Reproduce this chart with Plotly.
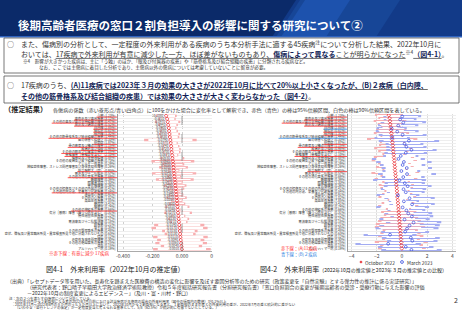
import plotly.graph_objects as go

W, H = 462, 320
FONT = "Noto Sans CJK JP"


def X(px):
    return px / W


def Y(py):
    return 1 - py / H


# ---------------- data ----------------
diseases = [
    "う蝕", "歯肉炎及び歯周疾患", "その他の歯及び歯の支持組織の障害", "屈折及び調節の障害",
    "白内障", "結膜炎", "緑内障", "その他の筋骨格系及び結合組織の疾患", "肩の傷害＜損傷＞",
    "関節症", "骨の密度及び構造の障害", "皮膚炎及び湿疹", "その他の眼及び付属器の疾患",
    "脊椎障害（脊椎症を含む）", "腰痛症及び坐骨神経痛", "その他の皮膚及び皮下組織の疾患",
    "アレルギー性鼻炎", "神経症性障害、ストレス関連障害及び身体表現性障害", "前立腺肥大（症）",
    "胃炎及び十二指腸炎", "その他の消化器系の疾患", "睡眠障害", "脂質異常症", "甲状腺障害",
    "その他の損傷及びその他の外因の影響", "その他の内分泌、栄養及び代謝疾患", "虚血性心疾患",
    "その他の心疾患", "高血圧性疾患", "糖尿病", "脳梗塞", "その他の神経系の疾患",
    "気分［感情］障害（躁うつ病を含む）", "慢性閉塞性肺疾患", "喘息", "胃潰瘍及び十二指腸潰瘍",
    "肝疾患", "腎不全", "その他の腎尿路系の疾患",
    "症状、徴候及び異常臨床所見・異常検査所見で他に分類されないもの", "痔核",
    "炎症性多発性関節障害", "その他の循環器系の疾患", "貧血", "アルツハイマー病",
]
share_pct = [1.23, 3.12, 0.47, 0.52, 2.85, 0.61, 1.32, 1.44, 0.33, 1.87, 1.15, 0.98, 1.05,
             2.10, 0.88, 0.73, 0.29, 0.26, 0.95, 0.57, 0.69, 0.39, 2.33, 0.36, 0.41, 0.84,
             0.91, 1.02, 7.85, 3.41, 0.74, 0.66, 0.31, 0.22, 0.27, 0.18, 0.21, 0.35, 0.48,
             0.63, 0.12, 0.30, 0.25, 0.15, 0.19]

# Fig 4-1 : October 2022 estimates
est_oct22 = [-0.108, -0.101, -0.097, -0.094, -0.090, -0.088, -0.085, -0.083, -0.079, -0.077,
             -0.074, -0.072, -0.070, -0.067, -0.065, -0.062, -0.060, -0.058, -0.057, -0.054,
             -0.052, -0.049, -0.047, -0.046, -0.043, -0.041, -0.039, -0.037, -0.035, -0.033,
             -0.031, -0.029, -0.027, -0.025, -0.023, -0.021, -0.019, -0.017, -0.015, -0.013,
             -0.011, -0.009, -0.006, -0.004, -0.001]
half95_oct22 = [0.072, 0.058, 0.085, 0.066, 0.052, 0.060, 0.071, 0.064, 0.178, 0.048,
                0.056, 0.063, 0.059, 0.041, 0.080, 0.145, 0.075, 0.098, 0.039, 0.150,
                0.046, 0.128, 0.052, 0.076, 0.058, 0.030, 0.048, 0.069, 0.038, 0.055,
                0.081, 0.022, 0.094, 0.047, 0.071, 0.058, 0.170, 0.190, 0.120, 0.105,
                0.185, 0.160, 0.175, 0.140, 0.195]
sig_rows = [0, 1, 2, 3, 4, 5, 6, 7, 9, 10, 11, 12, 13, 18, 20, 25, 31]

# Fig 4-2 : October 2022 vs March 2023
fig42_oct = [-1.05, -0.98, -0.95, -0.93, -0.88, -0.86, -0.84, -0.81, -0.78, -0.76, -0.73,
             -0.71, -0.69, -0.66, -0.64, -0.61, -0.60, -0.57, -0.56, -0.53, -0.51, -0.48,
             -0.47, -0.45, -0.42, -0.40, -0.38, -0.37, -0.34, -0.32, -0.30, -0.28, -0.26,
             -0.24, -0.22, -0.20, -0.18, -0.16, -0.14, -0.12, -0.10, -0.08, -0.06, -0.04, -0.01]
fig42_oct_half = [1.1, 0.9, 1.3, 1.0, 0.8, 1.2, 1.4, 0.9, 2.0, 1.0, 1.1, 1.5, 1.2, 0.9, 1.6,
                  1.8, 1.3, 1.5, 1.0, 1.9, 1.2, 1.7, 1.1, 1.4, 1.3, 1.0, 1.2, 1.5, 0.8, 1.3,
                  1.6, 1.0, 1.4, 1.2, 1.5, 1.7, 1.9, 2.0, 1.4, 1.6, 1.8, 1.5, 2.1, 1.7, 1.9]
fig42_mar = [0.02, -0.15, 0.10, -0.30, -0.82, -0.38, 0.05, -0.78, 0.55, 0.20, 0.35, 0.75,
             0.30, -0.10, -0.28, 0.15, 0.05, 0.38, -0.05, 0.40, 0.10, -0.20, 0.22, 0.45, 0.12,
             0.30, -0.32, 0.60, 0.15, 0.80, 0.05, 0.35, 0.50, 0.78, 0.20, 0.92, 0.60, 0.40,
             0.25, -0.95, 0.70, 0.82, -1.10, 0.30, 0.75]
fig42_mar_half = [1.5, 1.3, 1.8, 1.6, 1.2, 1.7, 1.9, 1.4, 2.4, 1.5, 1.6, 2.0, 1.7, 1.4, 2.1,
                  2.2, 1.8, 2.0, 1.5, 2.3, 1.7, 2.1, 1.6, 1.9, 1.8, 1.5, 1.7, 2.0, 1.2, 1.8,
                  2.1, 1.5, 1.9, 1.7, 2.0, 2.2, 2.4, 2.5, 1.9, 2.1, 2.3, 2.0, 2.6, 2.2, 2.4]
groupA_rows = [0, 1, 2, 3, 5, 6, 9, 10, 11, 13, 18]
groupB_rows = [4, 7]
legend_names = ["October 2022", "March 2023"]

x1_tickvals = [-0.4, -0.2, 0.0, 0.2]
x1_ticktext = ["-0.400", "-0.200", "0.000", "0"]
x2_tickvals = [-4, -2, 0, 2, 4]

Z90 = 1.645 / 1.96
LBL = 3.2  # label font size

labels = [f"{d} ({p:.2f}%)" for d, p in zip(diseases, share_pct)]
rows = list(range(len(diseases)))

PINK = "#f7aeb0"
RED = "#e8383d"
LBLUE = "#a3acf2"
BLUE = "#4a5be0"

fig = go.Figure()

# ---- Fig 4-1 ----
lo95 = [e - h for e, h in zip(est_oct22, half95_oct22)]
lo90 = [e - h * Z90 for e, h in zip(est_oct22, half95_oct22)]
fig.add_trace(go.Bar(orientation="h", y=rows, base=lo95, x=[2 * h for h in half95_oct22],
                     width=0.8, marker=dict(color=PINK, line=dict(width=0)),
                     xaxis="x", yaxis="y", showlegend=False, hoverinfo="skip"))
fig.add_trace(go.Bar(orientation="h", y=rows, base=lo90, x=[2 * h * Z90 for h in half95_oct22],
                     width=0.18, marker=dict(color="white", line=dict(width=0)),
                     xaxis="x", yaxis="y", showlegend=False, hoverinfo="skip"))
fig.add_trace(go.Scatter(x=est_oct22, y=rows, mode="markers+text",
                         text=[f"{v:.4f}" for v in est_oct22], textposition="middle left",
                         textfont=dict(size=3.2, color="#444", family=FONT),
                         marker=dict(symbol="diamond-open", size=2.8, color=RED, line=dict(width=0.8)),
                         xaxis="x", yaxis="y", showlegend=False, hoverinfo="skip"))

# ---- Fig 4-2 ----
yo = [r - 0.22 for r in rows]
ym = [r + 0.22 for r in rows]
fig.add_trace(go.Bar(orientation="h", y=yo, base=[e - h for e, h in zip(fig42_oct, fig42_oct_half)],
                     x=[2 * h for h in fig42_oct_half], width=0.44,
                     marker=dict(color=PINK, line=dict(width=0)), xaxis="x2", yaxis="y2",
                     showlegend=False, hoverinfo="skip"))
fig.add_trace(go.Bar(orientation="h", y=ym, base=[e - h for e, h in zip(fig42_mar, fig42_mar_half)],
                     x=[2 * h for h in fig42_mar_half], width=0.44,
                     marker=dict(color=LBLUE, line=dict(width=0)), xaxis="x2", yaxis="y2",
                     showlegend=False, hoverinfo="skip"))
fig.add_trace(go.Bar(orientation="h", y=yo, base=[e - h * Z90 for e, h in zip(fig42_oct, fig42_oct_half)],
                     x=[2 * h * Z90 for h in fig42_oct_half], width=0.08,
                     marker=dict(color="white", line=dict(width=0)), xaxis="x2", yaxis="y2",
                     showlegend=False, hoverinfo="skip"))
fig.add_trace(go.Bar(orientation="h", y=ym, base=[e - h * Z90 for e, h in zip(fig42_mar, fig42_mar_half)],
                     x=[2 * h * Z90 for h in fig42_mar_half], width=0.08,
                     marker=dict(color="white", line=dict(width=0)), xaxis="x2", yaxis="y2",
                     showlegend=False, hoverinfo="skip"))
fig.add_trace(go.Scatter(x=fig42_oct, y=yo, mode="markers", name=legend_names[0],
                         marker=dict(symbol="diamond-open", size=2.8, color=RED, line=dict(width=0.8)),
                         xaxis="x2", yaxis="y2", hoverinfo="skip", showlegend=False))
fig.add_trace(go.Scatter(x=fig42_mar, y=ym, mode="markers", name=legend_names[1],
                         marker=dict(symbol="circle-open", size=2.8, color=BLUE, line=dict(width=0.8)),
                         xaxis="x2", yaxis="y2", hoverinfo="skip", showlegend=False))

shapes = []
ann = []


def poly(pts, color, opacity=1.0, layer="below"):
    path = "M " + " L ".join(f"{X(a)},{Y(b)}" for a, b in pts) + " Z"
    shapes.append(dict(type="path", xref="paper", yref="paper", path=path,
                       fillcolor=color, line=dict(width=0), opacity=opacity, layer=layer))


def rect(x0, y0, x1, y1, fill=None, line=None, lw=0.8):
    shapes.append(dict(type="rect", xref="paper", yref="paper", x0=X(x0), x1=X(x1),
                       y0=Y(y1), y1=Y(y0), fillcolor=fill or "rgba(0,0,0,0)",
                       line=dict(color=line or "rgba(0,0,0,0)", width=lw if line else 0),
                       layer="below"))


def text(x, y, s, size, color="#333", anchor="left", bold=False):
    if bold:
        s = f"<b>{s}</b>"
    ann.append(dict(x=X(x), y=Y(y), xref="paper", yref="paper", text=s, showarrow=False,
                    xanchor=anchor, yanchor="middle", font=dict(size=size, color=color, family=FONT),
                    borderpad=0))


# title bar
rect(0, 0, 462, 37, fill="#0b2a69")
poly([(296, 0), (462, 0), (462, 37), (272, 37)], "#123a88")
poly([(300, 0), (400, 0), (376, 37), (276, 37)], "#174697")
poly([(305, 0), (350, 0), (326, 37), (281, 37)], "#1d52ad")
rect(0, 36, 462, 37.5, fill="#2e63c0")
text(17, 25, "後期高齢者医療の窓口２割負担導入の影響に関する研究について②", 11.5, "white", bold=True)

# box 1
rect(4, 38, 459, 73, line="#555", lw=0.8)
NAVY = "#101c55"
text(6, 44, "○　また、傷病別の分析として、一定程度の外来利用がある疾病のうち本分析手法に適する45疾病<sup>注</sup>について分析した結果、2022年10月に", 7.0)
text(20, 53, "おいては、<u>17疾病で外来利用が有意に減少した一方、ほぼ差がないものもあり、</u>"
     f"<b><u><span style='color:{NAVY}'>傷病によって異なる</span></u></b><u>ことが明らかになった</u><sup>※4</sup>"
     f"<b><u><span style='color:{NAVY}'>（図4-1）</span></u></b>。", 7.0)
text(22, 61, "※4　影響が大きかった疾病は、主に「う蝕」のほか、「眼及び付属器の疾患」や「筋骨格系及び結合組織の疾患」に分類される疾病など。", 4.6)
text(38, 67.5, "なお、ここでは主傷病に着目した分析であり、主傷病以外の傷病については考慮していないことに留意が必要。", 4.6)

# box 2
rect(4, 76, 459, 103, line="#555", lw=0.8)
text(6, 85, f"○　17疾病のうち、<b><u><span style='color:{NAVY}'>(A)11疾病では2023年３月の効果の大きさが2022年10月に比べて20%以上小さくなったが、(B)２疾病（白内障、</span></u></b>", 7.0)
text(20, 96, f"<b><u><span style='color:{NAVY}'>その他の筋骨格系及び結合組織の疾患）では効果の大きさが大きく変わらなかった（図4-2）</span></u></b>。", 7.0)

# estimation note
text(3, 109, "（推定結果）", 7.2, "#222", bold=True)
text(52, 109.5, "各傷病の係数（赤い菱形点/青い四角点）に100をかけた場合に変化率として解釈でき、赤色（青色）の棒は95%信頼区間、白色の棒は90%信頼区間を表している。", 5.1, "#333")

# zero line fig 4-1
shapes.append(dict(type="line", xref="x", yref="y domain", x0=0, x1=0, y0=0, y1=1,
                   line=dict(color="#777", width=0.7, dash="dash")))


def text_w(s, size):
    w = 0
    for ch in s:
        w += size * (0.55 if ord(ch) < 128 else 1.0)
    return w


for i in sig_rows:
    w = text_w(labels[i], LBL)
    shapes.append(dict(type="line", xref="paper", yref="y", x0=X(117 - w), x1=X(117),
                       y0=i + 0.42, y1=i + 0.42, line=dict(color="#ff2a2a", width=0.8)))
for i in groupA_rows:
    w = text_w(labels[i], LBL)
    shapes.append(dict(type="line", xref="paper", yref="y2", x0=X(347 - w), x1=X(347),
                       y0=i + 0.42, y1=i + 0.42, line=dict(color="#ff2a2a", width=0.8)))
for i in groupB_rows:
    w = text_w(labels[i], LBL)
    shapes.append(dict(type="line", xref="paper", yref="y2", x0=X(347 - w), x1=X(347),
                       y0=i + 0.42, y1=i + 0.42, line=dict(color="#3a8ee6", width=0.8)))

text(48, 253, "※赤下線：有意に減少 17疾病", 4.5, "#ff2a2a")
text(280, 248, "赤下線：(A)11疾病", 4.3, "#ff2a2a")
text(280, 254, "青下線：(B)２疾病", 4.3, "#2f7fe0")

# legend (drawn manually to keep it compact)
poly([(361, 260.5), (362.6, 262), (361, 263.5), (359.4, 262)], RED, layer="above")
text(364, 262, legend_names[0], 4.8, "#333")
shapes.append(dict(type="circle", xref="paper", yref="paper", x0=X(400.6), x1=X(403.4),
                   y0=Y(263.4), y1=Y(260.6), line=dict(color=BLUE, width=0.9)))
text(406, 262, legend_names[1], 4.8, "#333")

# captions
text(115, 269, "図4-1　外来利用率（2022年10月の推定値）", 7.0, "#222", anchor="center")
text(353, 269, "図4-2　外来利用率<span style='font-size:5px'>（2022年10月の推定値と2023年３月の推定値との比較）</span>", 7.0, "#222", anchor="center")

# source and notes
text(6, 281, "（出典）「レセプトデータ等を用いた、長寿化を踏まえた医療費の構造の変化に影響を及ぼす要因分析等のための研究（政策変更を「自然実験」とする弾力性の推計に係る実証研究）」", 5.0)
text(26, 287, "（研究代表者：野口晴子早稲田大学政治経済学術院教授）令和５年度総括研究報告書（分担研究報告書）「窓口負担割合の変更が後期高齢者の受診・受療行動に与えた影響の評価", 5.0)
text(26, 293, "－2022年10月の制度変更によるエビデンス－」（及川・富・川村・野口）", 5.0)
text(8, 298.5, "注：次の２つを満たす45疾病について分析している。", 3.5)
text(12, 301.5, "- 2022年10月から２割負担になる者の2022年7月以前における該当疾病が主傷病の場合の外来利用率（図中の括弧内の数値）が0.1%以上", 3.5)
text(12, 304.5, "- 2021年11月～2022年6月の８か月のうち５か月以上において、2022年10月から２割負担になる者と、１割負担のままの者との外来利用の差が、2022年7月の差と統計的に差がない", 3.5)
text(14, 307.5, "（いわゆる「並行トレンドの仮定」が一定程度妥当と考えられる基準として、5/8（62.5%）が統計的に有意でないとしている。）", 3.5)
text(456, 300, "2", 7.0, "#333", anchor="center")

axis_common = dict(showgrid=True, zeroline=False, ticks="", showline=True, fixedrange=True,
                   automargin=False)

fig.update_layout(
    width=W, height=H, margin=dict(l=0, r=0, t=0, b=0, pad=0, autoexpand=False),
    paper_bgcolor="white", plot_bgcolor="white", barmode="overlay",
    font=dict(family=FONT, color="#333"), showlegend=False,
    xaxis=dict(domain=[X(118), X(212)], range=[-0.434, 0.203], anchor="y",
               tickvals=x1_tickvals, ticktext=x1_ticktext, tickfont=dict(size=5, color="#444"),
               gridcolor="#cfcfcf", griddash="dot", gridwidth=0.6, linecolor="#aaa", linewidth=0.6,
               **axis_common),
    yaxis=dict(domain=[Y(251), Y(114)], range=[44.6, -0.6], anchor="x",
               tickvals=rows, ticktext=labels, tickfont=dict(size=LBL, color="#333"),
               gridcolor="#eeeeee", gridwidth=0.5, linecolor="#999", linewidth=0.6,
               ticklabelstandoff=1, **axis_common),
    xaxis2=dict(domain=[X(348), X(456)], range=[-4.29, 4.29], anchor="y2",
                tickvals=x2_tickvals, tickfont=dict(size=5, color="#444"),
                gridcolor="#dddddd", gridwidth=0.6, linecolor="#aaa", linewidth=0.6,
                **axis_common),
    yaxis2=dict(domain=[Y(251), Y(114)], range=[44.6, -0.6], anchor="x2",
                tickvals=rows, ticktext=labels, tickfont=dict(size=LBL, color="#333"),
                gridcolor="#eeeeee", gridwidth=0.5, linecolor="#999", linewidth=0.6,
                ticklabelstandoff=1, **axis_common),
    shapes=shapes, annotations=ann,
)

fig.write_html("out.html")
